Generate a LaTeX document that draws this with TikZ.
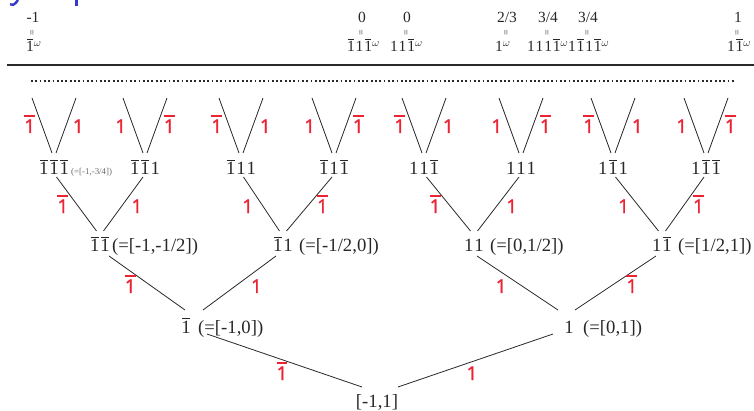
\documentclass[tikz,border=0pt]{standalone}
\usepackage{fontspec}
\setmainfont{Liberation Serif}
\newfontfamily\redfont{Open Sans}[FakeBold=1.3]
\usetikzlibrary{calc}
\definecolor{ink}{RGB}{40,40,40}
\definecolor{lab}{RGB}{235,35,50}
\definecolor{ttl}{RGB}{55,55,200}
\definecolor{note}{RGB}{105,105,105}
\newsavebox\onebox
\newcommand\bOne{\leavevmode\sbox\onebox{1}\vbox{\offinterlineskip\hbox{\kern.7pt\vrule height .9pt depth 0pt width \dimexpr\wd\onebox-1.4pt\relax\kern.7pt}\kern2pt\box\onebox}}
\newcommand\dk{\kern.05em}
\newcommand\rOne{\hbox{1}}
\newcommand\rBar{\leavevmode\vbox{\hrule height 2pt\kern2.2pt\hbox{1}}}
\tikzset{
 dig/.style={inner sep=0pt,anchor=base,text=ink,font=\fontsize{18.7}{21}\selectfont},
 ivl/.style={inner sep=0pt,anchor=base west,text=ink,font=\fontsize{18.7}{21}\selectfont},
 topt/.style={inner sep=0pt,text=ink,font=\fontsize{15.5}{17}\selectfont},
 eqs/.style={inner sep=0pt,text=ink,font=\fontsize{10}{11}\selectfont,rotate=90},
 lbl/.style={inner sep=0pt,text=lab,font=\redfont\fontsize{19}{21}\selectfont},
 conn/.style={draw=ink,line width=0.8pt},
}
\begin{document}
\begin{tikzpicture}[x=1pt,y=-1pt]
\useasboundingbox (0,0) rectangle (754,411);
% cut-off title fragments
\draw[ttl,line width=2.4pt] (18,0) -- (15.5,3.2) .. controls (14.5,4.8) and (12.5,5.2) .. (10,4.4);
\fill[ttl] (74.8,0) rectangle (78.2,5.6);
% rules
\coordinate (rule1) at (7,65); \coordinate (rule2) at (754,65);
\draw[ink,line width=2.6pt] (rule1) -- (rule2);
\coordinate (dot1) at (31,81); \coordinate (dot2) at (735,81);
\draw[ink,line width=1.8pt,dash pattern=on 1.8pt off 2.5pt] (dot1) -- (dot2);
% top columns
\foreach \x/\lx/\t/\b [count=\i] in {
 33/26/{-1}/{\bOne$^\omega$},
 362/347/0/{\bOne\dk1\dk\bOne$^\omega$},
 407/390/0/{1\dk1\dk\bOne$^\omega$},
 507/495/{2/3}/{1$^\omega$},
 548/527/{3/4}/{1\dk1\dk1\dk\bOne$^\omega$},
 588/568/{3/4}/{1\dk\bOne\dk1\dk\bOne$^\omega$},
 738/727/1/{1\dk\bOne$^\omega$}}
{
 \node[topt,anchor=base] (tt\i) at (\x,23) {\t};
 \node[eqs] (te\i) at (\x,33) {=};
 \node[topt,anchor=base west] (tb\i) at (\lx,52) {\b};
}
% level 3 with leaf V's
\foreach \c/\t/\la/\ra [count=\k] in {
 54/{\bOne\dk\bOne\dk\bOne}/\rBar/\rOne,
 145/{\bOne\dk\bOne\dk1}/\rOne/\rBar,
 241/{\bOne\dk1\dk1}/\rBar/\rOne,
 334/{\bOne\dk1\dk\bOne}/\rOne/\rBar,
 424/{1\dk1\dk\bOne}/\rBar/\rOne,
 521/{1\dk1\dk1}/\rOne/\rBar,
 613/{1\dk\bOne\dk1}/\rBar/\rOne,
 706/{1\dk\bOne\dk\bOne}/\rOne/\rBar}
{
 \node[dig] (v\k) at (\c,175) {\t};
 \coordinate (vl\k) at ({\c-22},98);
 \coordinate (vr\k) at ({\c+22},98);
 \draw[conn] (vl\k) -- node[lbl,pos=.527,anchor=base east,xshift=-7pt,yshift=-6pt] (la\k) {\la} ($(v\k.base)+(-2,-22)$);
 \draw[conn] (vr\k) -- node[lbl,pos=.527,anchor=base west,xshift=7pt,yshift=-6pt] (rl\k) {\ra} ($(v\k.base)+(2,-22)$);
}
\node[inner sep=0pt,anchor=base west,text=note,font=\fontsize{8.9}{10}\selectfont] (sm) at (71,175) {(=[-1,-3/4])};
% level 2
\node[dig] (n2a) at (100,252) {\bOne\dk\bOne};
\node[dig] (n2b) at (283,252) {\bOne\dk1};
\node[dig] (n2c) at (474,252) {1\dk1};
\node[dig] (n2d) at (662,252) {1\dk\bOne};
\node[ivl] (i2a) at (112,252) {(=[-1,-1/2])};
\node[ivl] (i2b) at (299,252) {(=[-1/2,0])};
\node[ivl] (i2c) at (490,252) {(=[0,1/2])};
\node[ivl] (i2d) at (678,252) {(=[1/2,1])};
% level 1
\node[dig] (n1a) at (186,333) {\bOne};
\node[dig] (n1b) at (569,333) {1};
\node[ivl] (i1a) at (198,333) {(=[-1,0])};
\node[ivl] (i1b) at (583,333) {(=[0,1])};
% root
\node[dig] (root) at (377,407) {[-1,1]};
% level 3 -> level 2
\foreach \a/\b/\p/\l/\r in {1/2/n2a/\rBar/\rOne, 3/4/n2b/\rOne/\rBar, 5/6/n2c/\rBar/\rOne, 7/8/n2d/\rOne/\rBar}
{
 \draw[conn] ($(v\a.base)+(2.5,2)$) -- node[lbl,pos=.556,anchor=base east,xshift=-10pt,yshift=-6pt] (m\a) {\l} ($(\p.base)+(-3.5,-21)$);
 \draw[conn] ($(v\b.base)+(-2,2)$) -- node[lbl,pos=.556,anchor=base west,xshift=10pt,yshift=-6pt] (m\b) {\r} ($(\p.base)+(3.5,-21)$);
}
% level 2 -> level 1
\draw[conn] ($(n2a.base)+(9,4)$) -- node[lbl,pos=.574,anchor=base east,xshift=-16.5pt,yshift=-6pt] (k1) {\rBar} ($(n1a.base)+(-1,-23)$);
\draw[conn] ($(n2b.base)+(-7,4)$) -- node[lbl,pos=.574,anchor=base west,xshift=16.5pt,yshift=-6pt] (k2) {\rOne} ($(n1a.base)+(17,-23)$);
\draw[conn] ($(n2c.base)+(3,4)$) -- node[lbl,pos=.574,anchor=base east,xshift=-16.5pt,yshift=-6pt] (k3) {\rOne} ($(n1b.base)+(-11,-23)$);
\draw[conn] ($(n2d.base)+(-6,4)$) -- node[lbl,pos=.574,anchor=base west,xshift=16.5pt,yshift=-6pt] (k4) {\rBar} ($(n1b.base)+(6,-23)$);
% level 1 -> root
\draw[conn] ($(n1a.base)+(21,1)$) -- node[lbl,pos=.484,anchor=base,yshift=-20.4pt] (j1) {\rBar} ($(root.base)+(-15,-20)$);
\draw[conn] ($(n1b.base)+(-16,1)$) -- node[lbl,pos=.523,anchor=base,yshift=-18.3pt] (j2) {\rOne} ($(root.base)+(21,-20)$);
\end{tikzpicture}
\end{document}
